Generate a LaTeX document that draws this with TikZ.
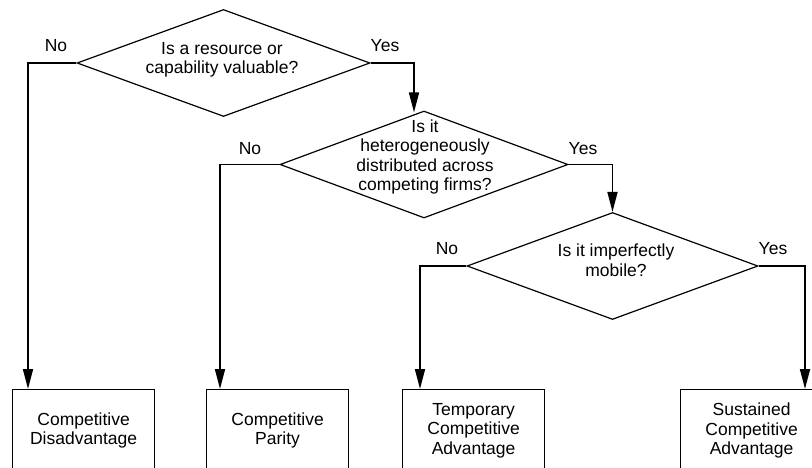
\documentclass[tikz,border=0pt]{standalone}
\usepackage{fontspec}
\setmainfont{Liberation Sans}
\usetikzlibrary{shapes.geometric,arrows.meta}
\begin{document}
\begin{tikzpicture}[x=1pt,y=-1pt,
  txt/.style={font=\fontsize{17.5}{19.5}\selectfont, align=center, inner sep=0pt},
  decision/.style={diamond, draw, line width=1.2pt, inner sep=0pt,
    minimum width=#1, minimum height=107pt},
  outcome/.style={rectangle, draw, line width=1.2pt, inner sep=0pt,
    minimum width=142pt, minimum height=82pt, anchor=north west,
    font=\fontsize{17.5}{19.5}\selectfont, align=center},
  flow/.style={line width=1.7pt, -{Triangle[length=20pt,width=10pt]}},
  answer/.style={font=\fontsize{17.5}{19.5}\selectfont, inner sep=0pt}]
\useasboundingbox (0,0) rectangle (812,468);
\clip (0,0) rectangle (812,468);

% decision diamonds
\node[decision=293pt] (d1) at (223.5,63) {};
\node[decision=288pt] (d2) at (424,164.5) {};
\node[decision=291pt] (d3) at (612.5,266) {};

% questions
\node[txt] (q1) at (222,60) {Is a resource or\\capability valuable?};
\node[txt] (q2) at (425,157) {Is it\\heterogeneously\\distributed across\\competing firms?};
\node[txt] (q3) at (616,260) {Is it imperfectly\\mobile?};

% outcomes (open at the foot)
\node[outcome] (b1) at (12,389) {Competitive\\Disadvantage};
\node[outcome] (b2) at (206,389) {Competitive\\Parity};
\node[outcome] (b3) at (402,389) {Temporary\\Competitive\\Advantage};
\node[outcome] (b4) at (680,389) {Sustained\\Competitive\\Advantage};

% branch labels
\node[answer] (n1) at (56,46) {No};
\node[answer] (y1) at (385,46) {Yes};
\node[answer] (n2) at (250,149) {No};
\node[answer] (y2) at (583,149) {Yes};
\node[answer] (n3) at (447,249) {No};
\node[answer] (y3) at (773,249) {Yes};

% connectors
\draw[flow] (d1.west) -| ([xshift=16pt]b1.north west);
\draw[flow] (d1.east) -| ([xshift=-10pt,yshift=-2pt]d2.north);
\draw[flow] (d2.west) -| ([xshift=14pt]b2.north west);
\draw[flow] (d2.east) -| (d3.north);
\draw[flow] (d3.west) -| ([xshift=18pt]b3.north west);
\draw[flow] (d3.east) -| ([xshift=125pt]b4.north west);
\end{tikzpicture}
\end{document}
